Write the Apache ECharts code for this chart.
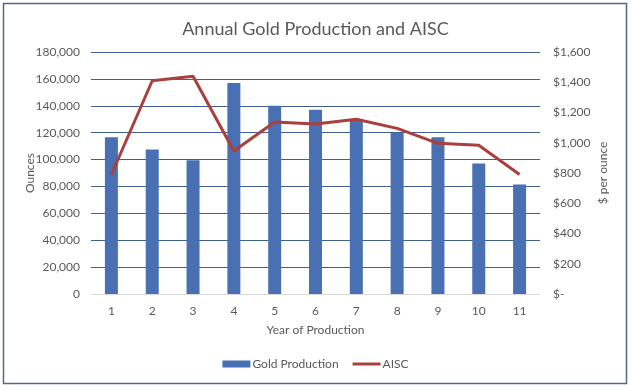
<!DOCTYPE html>
<html>
<head>
<meta charset="utf-8">
<script src="https://cdn.jsdelivr.net/npm/echarts@6/dist/echarts.min.js"></script>
<style>
html,body{margin:0;padding:0;background:#fff;}
#c{width:631px;height:390px;}
</style>
</head>
<body>
<div id="c"></div>
<script>
const years = ['1','2','3','4','5','6','7','8','9','10','11'];
const goldProduction = [116500, 107500, 99500, 157000, 140000, 137000, 130000, 120000, 116500, 97000, 81500];
const aisc = [790, 1410, 1440, 945, 1137, 1124, 1155, 1095, 996, 983, 790];
const leftTicks = {min: 0, max: 180000, interval: 20000};
const rightTicks = {min: 0, max: 1600, interval: 200};

const font = 'Lato, "Noto Sans", sans-serif';
const txt = '#595959';
const chart = echarts.init(document.getElementById('c'), null, {renderer: 'canvas'});
chart.setOption({
  animation: false,
  title: {
    text: 'Annual Gold Production and AISC',
    left: 'center', top: 15,
    textStyle: {fontFamily: font, fontSize: 18, fontWeight: 'normal', color: txt}
  },
  graphic: [{
    type: 'rect', shape: {x: 3.5, y: 3.5, width: 623, height: 380},
    style: {fill: 'none', stroke: '#4f6b86', lineWidth: 1.5}, silent: true, z: 100
  }],
  legend: {
    bottom: 15, left: 'center', itemGap: 14,
    data: [
      {name: 'Gold Production', icon: 'path://M0,0 h28 v7 h-28 z', itemStyle: {color: '#4a70b4'}},
      {name: 'AISC', icon: 'path://M0,2 h28 v3 h-28 z M0,0 h0.01 v7 h-0.01 z', itemStyle: {color: '#a9403d'}}
    ],
    itemWidth: 28, itemHeight: 7,
    textStyle: {fontFamily: font, fontSize: 12, color: txt, padding: [0, 0, 0, -3]}
  },
  grid: {left: 91, right: 91, top: 52, bottom: 96},
  xAxis: {
    type: 'category', data: years,
    name: 'Year of Production', nameLocation: 'middle', nameGap: 30,
    nameTextStyle: {fontFamily: font, fontSize: 12, color: txt},
    axisLine: {lineStyle: {color: '#d9d9d9'}},
    axisTick: {show: false},
    axisLabel: {fontFamily: font, fontSize: 12, color: txt, margin: 11}
  },
  yAxis: [{
    type: 'value', min: leftTicks.min, max: leftTicks.max, interval: leftTicks.interval,
    name: 'Ounces', nameLocation: 'middle', nameGap: 55, nameRotate: 90, nameMoveOverlap: false,
    nameTextStyle: {fontFamily: font, fontSize: 12, color: txt},
    axisLabel: {fontFamily: font, fontSize: 12, color: txt, margin: 11,
      formatter: v => v.toLocaleString('en-US')},
    splitLine: {lineStyle: {color: '#3f5f8f', width: 1}},
    axisLine: {show: false}, axisTick: {show: false}
  }, {
    type: 'value', min: rightTicks.min, max: rightTicks.max, interval: rightTicks.interval,
    name: '$ per ounce', nameLocation: 'middle', nameGap: 57, nameRotate: 90, nameMoveOverlap: false,
    nameTextStyle: {fontFamily: font, fontSize: 12, color: txt},
    axisLabel: {fontFamily: font, fontSize: 12, color: txt, margin: 13,
      formatter: v => v === 0 ? '$-' : '$' + v.toLocaleString('en-US')},
    splitLine: {show: false},
    axisLine: {show: false}, axisTick: {show: false}
  }],
  series: [{
    name: 'Gold Production', type: 'bar', data: goldProduction, yAxisIndex: 0,
    barWidth: 13, itemStyle: {color: '#4a70b4'}
  }, {
    name: 'AISC', type: 'line', data: aisc, yAxisIndex: 1,
    symbol: 'none', lineStyle: {color: '#a9403d', width: 3},
    itemStyle: {color: '#a9403d'}
  }]
});
</script>
</body>
</html>
